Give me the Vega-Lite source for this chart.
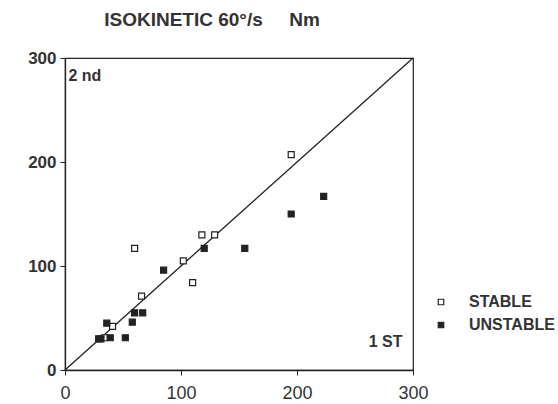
{
  "$schema": "https://vega.github.io/schema/vega-lite/v6.json",
  "autosize": "none",
  "width": 348,
  "height": 312,
  "padding": {"left": 65, "top": 58, "right": 145, "bottom": 34},
  "background": "white",
  "config": {
    "font": "Liberation Sans",
    "view": {"stroke": "#222", "strokeWidth": 1.2}
  },
  "title": {
    "text": "ISOKINETIC 60°/s\u00a0\u00a0\u00a0\u00a0\u00a0Nm",
    "fontSize": 19,
    "fontWeight": "bold",
    "color": "#333",
    "anchor": "middle",
    "frame": "group",
    "offset": 19,
    "dx": -27
  },
  "datasets": {
    "pts": [
      {"first": 195, "second": 207, "group": "STABLE"},
      {"first": 118, "second": 130, "group": "STABLE"},
      {"first": 129, "second": 130, "group": "STABLE"},
      {"first": 60, "second": 117, "group": "STABLE"},
      {"first": 102, "second": 105, "group": "STABLE"},
      {"first": 110, "second": 84, "group": "STABLE"},
      {"first": 66, "second": 71, "group": "STABLE"},
      {"first": 41, "second": 42, "group": "STABLE"},
      {"first": 34, "second": 31, "group": "STABLE"},
      {"first": 223, "second": 167, "group": "UNSTABLE"},
      {"first": 195, "second": 150, "group": "UNSTABLE"},
      {"first": 155, "second": 117, "group": "UNSTABLE"},
      {"first": 120, "second": 117, "group": "UNSTABLE"},
      {"first": 85, "second": 96, "group": "UNSTABLE"},
      {"first": 60, "second": 55, "group": "UNSTABLE"},
      {"first": 67, "second": 55, "group": "UNSTABLE"},
      {"first": 58, "second": 46, "group": "UNSTABLE"},
      {"first": 36, "second": 45, "group": "UNSTABLE"},
      {"first": 52, "second": 31, "group": "UNSTABLE"},
      {"first": 31, "second": 30, "group": "UNSTABLE"},
      {"first": 39, "second": 31, "group": "UNSTABLE"},
      {"first": 29, "second": 30, "group": "UNSTABLE"}
    ],
    "diag": [
      {"first": 0, "second": 0},
      {"first": 300, "second": 300}
    ]
  },
  "layer": [
    {
      "data": {"name": "diag"},
      "mark": {"type": "line", "color": "#222", "strokeWidth": 1.3},
      "encoding": {
        "x": {"field": "first", "type": "quantitative", "scale": {"domain": [0, 300]},
          "axis": {"values": [0, 100, 200, 300], "title": null, "grid": false, "tickDirection": "inward", "ticks": true, "tickSize": 5, "tickColor": "#222", "domainColor": "#222", "domainWidth": 1.3, "labelFontSize": 18, "labelFontWeight": "normal", "labelColor": "#333", "labelPadding": 9, "labelFlush": false}},
        "y": {"field": "second", "type": "quantitative", "scale": {"domain": [0, 300]},
          "axis": {"values": [0, 100, 200, 300], "title": null, "grid": false, "tickSize": 5, "tickColor": "#222", "domainColor": "#222", "domainWidth": 1.3, "labelFontSize": 17, "labelFontWeight": "bold", "labelColor": "#333", "labelPadding": 4}}
      }
    },
    {
      "data": {"name": "pts"},
      "mark": {"type": "point", "shape": "square", "size": 36, "strokeWidth": 1.2, "opacity": 1},
      "encoding": {
        "x": {"field": "first", "type": "quantitative"},
        "y": {"field": "second", "type": "quantitative"},
        "fill": {"field": "group", "type": "nominal",
          "scale": {"domain": ["STABLE", "UNSTABLE"], "range": ["white", "#222"]},
          "legend": {"title": null, "orient": "none", "legendX": 368, "legendY": 236, "labelFontSize": 16, "labelFontWeight": "bold", "labelColor": "#333", "symbolStrokeColor": "#222", "symbolSize": 30, "symbolStrokeWidth": 1.2, "labelOffset": 20, "rowPadding": 7}},
        "stroke": {"value": "#222"}
      }
    },
    {
      "data": {"values": [{"first": 3, "second": 283, "label": "2 nd"}]},
      "mark": {"type": "text", "fontSize": 16, "fontWeight": "bold", "color": "#333", "baseline": "middle", "align": "left"},
      "encoding": {
        "x": {"field": "first", "type": "quantitative"},
        "y": {"field": "second", "type": "quantitative"},
        "text": {"field": "label"}
      }
    },
    {
      "data": {"values": [{"first": 291, "second": 27, "label": "1 ST"}]},
      "mark": {"type": "text", "fontSize": 16, "fontWeight": "bold", "color": "#333", "baseline": "middle", "align": "right"},
      "encoding": {
        "x": {"field": "first", "type": "quantitative"},
        "y": {"field": "second", "type": "quantitative"},
        "text": {"field": "label"}
      }
    }
  ]
}
